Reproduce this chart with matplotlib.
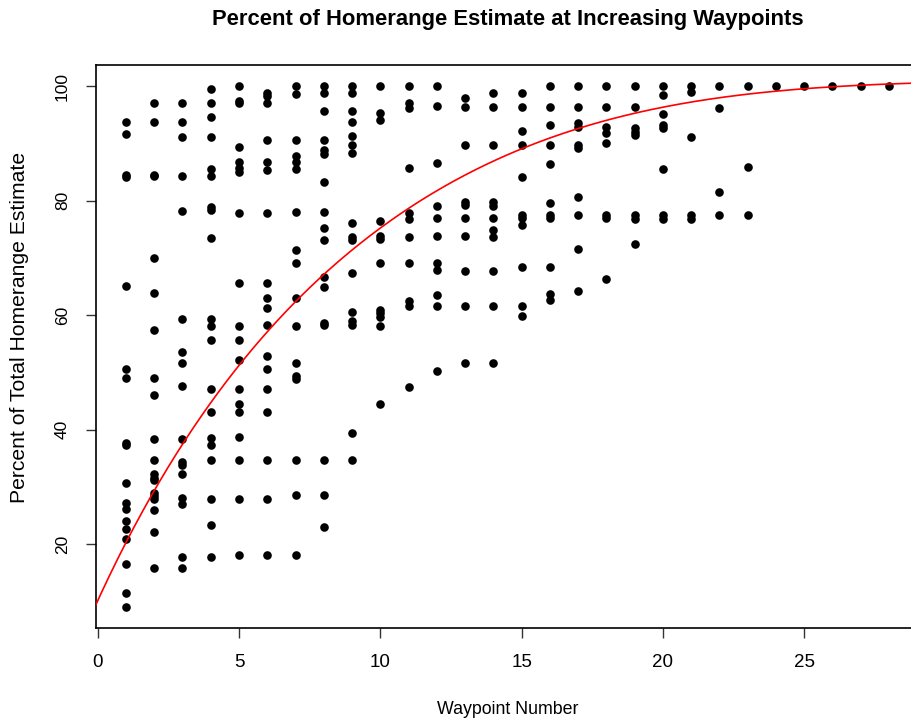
import numpy as np
import matplotlib
matplotlib.use("Agg")
import matplotlib.pyplot as plt

plt.rcParams['font.family'] = ['Liberation Sans', 'DejaVu Sans']

# number of observations at each waypoint (1..28)
counts = [18, 20, 17, 20, 19, 18, 17, 17, 16, 12, 11, 11, 10, 11, 11, 11, 10,
          8, 8, 8, 5, 4, 3, 1, 1, 1, 1, 1]

# percent of total homerange estimate, listed waypoint by waypoint
percent = [
    93.7, 91.6, 84.5, 84.1, 65.1, 50.6, 49.0, 37.7, 37.3, 30.6, 27.2, 26.1, 24.0, 22.6, 20.9, 16.5, 11.4, 9.0,
    97.0, 93.7, 84.5, 84.2, 70.0, 63.8, 57.4, 49.0, 46.0, 38.3, 34.7, 32.2, 31.6, 31.2, 28.9, 28.3, 27.8, 25.9, 22.1, 15.8,
    97.0, 93.7, 91.1, 84.3, 78.2, 59.3, 53.5, 51.6, 47.6, 38.3, 34.3, 33.8, 32.2, 28.0, 27.0, 17.7, 15.8,
    99.5, 97.0, 94.6, 91.1, 85.5, 84.3, 78.9, 78.4, 73.5, 59.3, 58.1, 55.6, 47.1, 43.1, 38.5, 37.3, 34.7, 27.9, 23.3, 17.7,
    100.0, 97.4, 97.0, 89.3, 86.7, 85.7, 85.0, 77.8, 65.6, 58.1, 55.6, 52.1, 47.1, 44.5, 43.1, 38.7, 34.7, 27.9, 18.1,
    98.8, 98.3, 97.0, 90.6, 86.7, 85.3, 77.8, 65.6, 63.0, 61.2, 58.3, 52.8, 50.6, 47.1, 43.1, 34.7, 27.9, 18.1,
    100.0, 98.6, 90.6, 87.8, 86.7, 85.5, 78.0, 71.4, 69.1, 63.0, 58.1, 51.6, 49.4, 48.9, 34.7, 28.6, 18.1,
    100.0, 98.8, 95.6, 90.6, 88.9, 88.1, 83.2, 78.0, 75.2, 73.1, 66.6, 64.9, 58.6, 58.2, 34.7, 28.6, 23.0,
    100.0, 98.8, 95.6, 93.7, 91.3, 89.7, 88.3, 76.1, 73.6, 73.1, 67.4, 60.6, 58.9, 58.3, 39.4, 34.7,
    100.0, 95.2, 94.0, 76.4, 73.8, 73.2, 69.1, 60.9, 60.3, 59.7, 58.1, 44.5,
    100.0, 97.0, 96.2, 85.7, 77.9, 76.8, 73.6, 69.1, 62.5, 61.6, 47.4,
    100.0, 96.5, 86.5, 79.0, 76.9, 73.8, 69.1, 67.9, 63.5, 61.6, 50.2,
    97.9, 96.3, 89.7, 79.8, 79.2, 76.9, 73.8, 67.7, 61.6, 51.6,
    98.8, 96.3, 89.7, 79.7, 79.0, 76.9, 74.8, 73.6, 67.7, 61.6, 51.6,
    98.8, 96.3, 92.1, 89.7, 84.1, 77.5, 76.9, 75.7, 68.4, 61.6, 59.8,
    100.0, 96.3, 93.2, 89.7, 86.3, 79.6, 77.5, 76.9, 68.4, 63.7, 62.6,
    100.0, 96.3, 93.5, 92.8, 89.7, 89.2, 80.6, 77.5, 71.5, 64.2,
    100.0, 96.3, 92.8, 91.8, 90.0, 77.5, 76.9, 66.3,
    100.0, 96.3, 92.7, 92.0, 91.4, 77.5, 76.8, 72.4,
    100.0, 98.4, 95.1, 93.2, 92.6, 85.5, 77.5, 76.8,
    100.0, 99.0, 91.1, 77.5, 76.8,
    100.0, 96.2, 81.5, 77.5,
    100.0, 85.9, 77.5,
    100.0,
    100.0,
    100.0,
    100.0,
    100.0,
]

waypoint = np.repeat(np.arange(1, len(counts) + 1), counts)

# fitted saturation curve parameters
fit_asym = 101.0
fit_start = 10.1
fit_k = 0.1185
fit_n = 7.4e-5

x_ticks = [0, 5, 10, 15, 20, 25]
y_ticks = [20, 40, 60, 80, 100]

W, H = 911, 725
fig = plt.figure(figsize=(W / 100, H / 100), dpi=100)
ax = fig.add_axes([95.7 / W, (H - 628) / H, (W - 95.7) / W, (628 - 65) / H])

ax.plot(waypoint, percent, 'o', color='black', ms=6.2, mew=0, zorder=3)

xs = np.linspace(-0.2, 29.5, 400)
ys = fit_asym - (fit_asym - fit_start) * np.exp(-fit_k * xs - fit_n * xs ** 3)
ax.plot(xs, ys, color='red', lw=1.2, zorder=4)

ax.set_xlim(-0.071, 28.78)
ax.set_ylim(5.33, 103.67)
ax.set_xticks(x_ticks)
ax.set_yticks(y_ticks)
ax.set_xticklabels([str(v) for v in x_ticks], fontsize=13.5)
ax.set_yticklabels([str(v) for v in y_ticks], fontsize=12.5, rotation=90, va='center')
ax.tick_params(axis='both', direction='out', length=7.5, width=1.0, color='#333333')
ax.tick_params(axis='x', pad=11)
ax.tick_params(axis='y', pad=11)
ax.spines['right'].set_visible(False)
for s in ['left', 'bottom', 'top']:
    ax.spines[s].set_linewidth(1.2)

fig.text(507.6 / W, 1 - 20 / H, 'Percent of Homerange Estimate at Increasing Waypoints',
         ha='center', va='center', fontsize=15.8, fontweight='bold')
fig.text(507.6 / W, 1 - 710 / H, 'Waypoint Number', ha='center', va='center', fontsize=12.8)
fig.text(20 / W, 1 - 327 / H, 'Percent of Total Homerange Estimate', ha='center', va='center',
         rotation=90, fontsize=15.2)

fig.savefig('out.png', dpi=100)
